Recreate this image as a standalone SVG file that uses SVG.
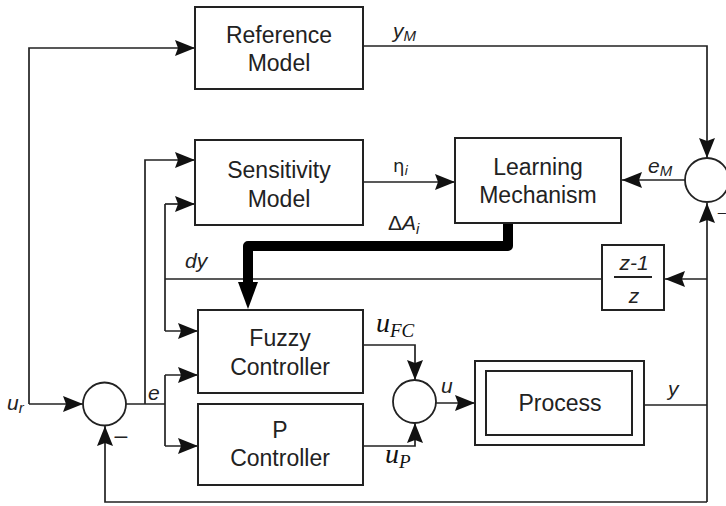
<svg xmlns="http://www.w3.org/2000/svg" width="726" height="506" viewBox="0 0 726 506">
<style>
.box{fill:#fff;stroke:#222;stroke-width:2}
.ln{fill:none;stroke:#222;stroke-width:1.7}
.arr{fill:none;stroke:#222;stroke-width:1.7;marker-end:url(#ah)}
.t{font-family:"Liberation Sans",Arial,sans-serif;font-size:23px;fill:#222;text-anchor:middle}
.i{font-family:"Liberation Sans",Arial,sans-serif;font-size:21px;font-style:italic;fill:#222}
.s{font-size:15px}
.m{font-family:"Liberation Serif","Times New Roman",serif;font-size:28px;font-style:italic;fill:#111}
.ms{font-size:19px}
</style>
<defs>
<marker id="ah" markerUnits="userSpaceOnUse" markerWidth="22" markerHeight="18" refX="20" refY="8" orient="auto">
<path d="M0,0 L20,8 L0,16 L3,8 z" fill="#111"/>
</marker>
</defs>
<g id="connectors">
<path class="arr" d="M29,404 L29,48 L195,48"/>
<path class="arr" d="M29,404 L83,404"/>
<path class="arr" d="M363,46 L707,46 L707,158"/>
<path class="arr" d="M363,182 L455,182"/>
<path class="arr" d="M685,180 L622,180"/>
<path class="ln" d="M644,405 L707,405"/>
<path class="arr" d="M707,502 L707,203"/>
<path class="arr" d="M707,279 L665,279"/>
<path class="arr" d="M707,502 L105,502 L105,426"/>
<path class="ln" d="M126,404 L165,404"/>
<path class="arr" d="M145,404 L145,160 L195,160"/>
<path class="ln" d="M165,375 L165,446"/>
<path class="arr" d="M165,375 L198,375"/>
<path class="arr" d="M165,446 L198,446"/>
<path class="ln" d="M602,279 L165,279"/>
<path class="ln" d="M165,204 L165,331"/>
<path class="arr" d="M165,204 L195,204"/>
<path class="arr" d="M165,331 L198,331"/>
<path class="arr" d="M363,345 L415,345 L415,380"/>
<path class="arr" d="M363,446 L415,446 L415,423"/>
<path class="arr" d="M436,403 L475,403"/>
<path d="M508,223 L508,246 L248,246 L248,284" fill="none" stroke="#000" stroke-width="10" stroke-linejoin="round"/>
<polygon points="238,282 258,282 248,309" fill="#000"/>
</g>
<g id="reference-model">
<rect class="box" x="195" y="7" width="168" height="82"/>
<text class="t" x="279" y="43">Reference</text>
<text class="t" x="279" y="71">Model</text>
</g>
<g id="sensitivity-model">
<rect class="box" x="195" y="140" width="168" height="85"/>
<text class="t" x="279" y="178">Sensitivity</text>
<text class="t" x="279" y="207">Model</text>
</g>
<g id="learning-mechanism">
<rect class="box" x="455" y="138" width="166" height="85"/>
<text class="t" x="538" y="175">Learning</text>
<text class="t" x="538" y="203">Mechanism</text>
</g>
<g id="fuzzy-controller">
<rect class="box" x="198" y="310" width="165" height="83"/>
<text class="t" x="280" y="346">Fuzzy</text>
<text class="t" x="280" y="375">Controller</text>
</g>
<g id="p-controller">
<rect class="box" x="198" y="404" width="165" height="81"/>
<text class="t" x="280" y="438">P</text>
<text class="t" x="280" y="466">Controller</text>
</g>
<g id="process">
<rect class="box" x="475" y="361" width="169" height="84"/>
<rect class="box" x="486" y="371" width="146" height="64"/>
<text class="t" x="560" y="411">Process</text>
</g>
<g id="derivative">
<rect class="box" x="602" y="245" width="62" height="65"/>
<text class="i" x="634" y="270" text-anchor="middle">z-1</text>
<line x1="614" y1="277" x2="652" y2="277" stroke="#222" stroke-width="2"/>
<text class="i" x="634" y="303" text-anchor="middle">z</text>
</g>
<g id="sum1">
<circle cx="104.5" cy="404" r="21.5" fill="#fff" stroke="#222" stroke-width="1.8"/>
<text class="t" x="121" y="443">–</text>
</g>
<g id="sum2">
<circle cx="414.5" cy="401.5" r="21.5" fill="#fff" stroke="#222" stroke-width="1.8"/>
</g>
<g id="sum3">
<circle cx="707" cy="180" r="22" fill="#fff" stroke="#222" stroke-width="1.8"/>
<text class="t" x="722" y="217" style="font-size:15px">–</text>
</g>
<g id="labels">
<text class="i" x="393" y="38">y<tspan class="s" dy="3">M</tspan></text>
<text class="i" x="393" y="172" style="font-style:normal;font-family:'DejaVu Sans',sans-serif;font-size:18px">η<tspan class="s" dy="3" style="font-style:italic;font-size:13px">i</tspan></text>
<text class="i" x="648" y="173">e<tspan class="s" dy="3">M</tspan></text>
<text class="i" x="388" y="230"><tspan style="font-style:normal">Δ</tspan>A<tspan class="s" dy="4">i</tspan></text>
<text class="i" x="185" y="268">dy</text>
<text class="i" x="148" y="400">e</text>
<text class="i" x="7" y="410">u<tspan class="s" dy="3">r</tspan></text>
<text class="i" x="441" y="393">u</text>
<text class="i" x="668" y="396">y</text>
<text class="m" x="376" y="332">u<tspan class="ms" dy="5">FC</tspan></text>
<text class="m" x="385" y="463">u<tspan class="ms" dy="5">P</tspan></text>
</g>
</svg>
